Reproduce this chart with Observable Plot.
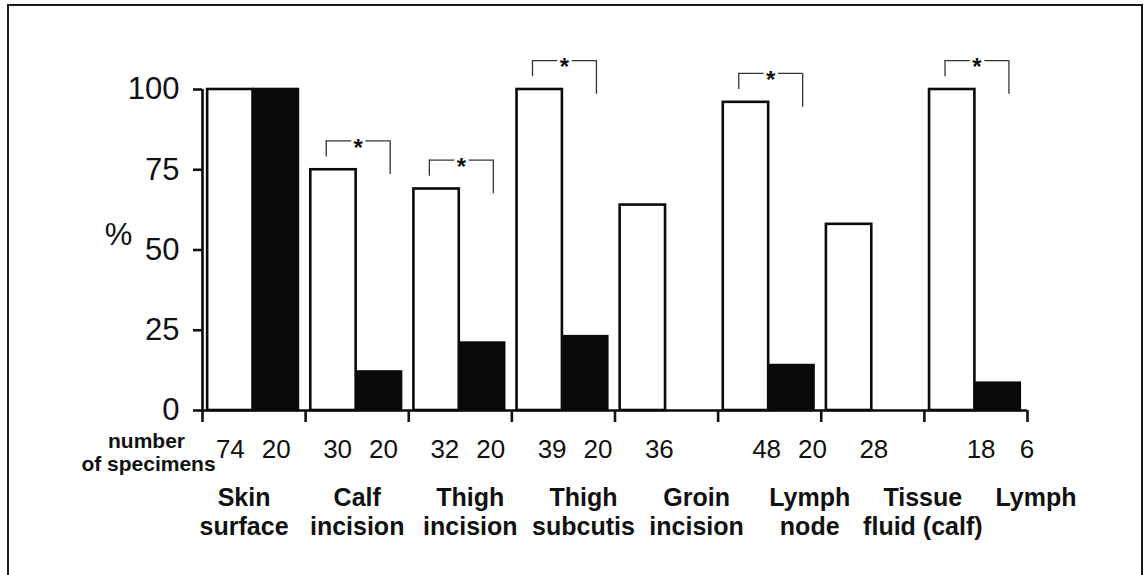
<!DOCTYPE html>
<html>
<head>
<meta charset="utf-8">
<script src="https://cdn.jsdelivr.net/npm/d3@7"></script>
<script src="https://cdn.jsdelivr.net/npm/@observablehq/plot@0.6"></script>
<style>
  html, body { margin: 0; padding: 0; background: #fff; }
  #wrap { position: relative; width: 1148px; height: 575px; overflow: hidden; background: #fff; }
  #frame { position: absolute; left: 7px; top: 4px; width: 1132px; height: 640px; border: 2px solid #1a1a1a; pointer-events: none; }
  #chart { position: absolute; left: 0; top: 0; }
</style>
</head>
<body>
<div id="wrap"><div id="chart"></div><div id="frame"></div></div>
<script>
// ---- data ----
const groups = ["Skin surface", "Calf incision", "Thigh incision", "Thigh subcutis", "Groin incision", "Lymph node", "Tissue fluid (calf)", "Lymph"];
const labelLine1 = ["Skin", "Calf", "Thigh", "Thigh", "Groin", "Lymph", "Tissue", "Lymph"];
const labelLine2 = ["surface", "incision", "incision", "subcutis", "incision", "node", "fluid (calf)", ""];
const whiteValues = [100, 75, 69, 100, 64, 96, 58, 100];
const blackValues = [100, 12, 21, 23, null, 14, null, 8.5];
const whiteN = [74, 30, 32, 39, 36, 48, 28, 18];
const blackN = [20, 20, 20, 20, null, 20, null, 6];
const significant = [false, true, true, true, false, true, false, true];
const yTicks = [0, 25, 50, 75, 100];

// ---- tables built from the arrays ----
const bars = [];
groups.forEach((g, i) => {
  bars.push({i, group: g, series: "white", value: whiteValues[i], n: whiteN[i]});
  if (blackValues[i] != null) bars.push({i, group: g, series: "black", value: blackValues[i], n: blackN[i]});
});
const labels = groups.map((g, i) => ({i, l1: labelLine1[i], l2: labelLine2[i]}));
const brackets = groups.map((g, i) => ({i, top: whiteValues[i] + 9})).filter(d => significant[d.i]);

// layout helpers (positions within a group, in group units)
const x1 = d => d.i + (d.series === "white" ? 0.05 : 0.50);
const x2 = d => d.i + (d.series === "white" ? 0.49 : 0.93);
const xc = d => (x1(d) + x2(d)) / 2;
const labelX = d => d.i + 0.5 + 0.097 * (d.i - 1);

const font = "'Liberation Sans', Arial, Helvetica, sans-serif";

const chart = Plot.plot({
  width: 1148,
  height: 575,
  marginLeft: 202,
  marginRight: 121,
  marginTop: 89,
  marginBottom: 165,
  style: {fontFamily: font, color: "#111", background: "transparent", overflow: "visible"},
  x: {domain: [0, groups.length], axis: null},
  y: {domain: [0, 100], axis: null},
  marks: [
    Plot.rectY(bars, {
      x1, x2, y1: 0, y2: "value",
      fill: d => d.series === "white" ? "white" : "#0a0a0a",
      stroke: "#0a0a0a", strokeWidth: 2.6
    }),
    Plot.ruleX([0], {y1: 0, y2: 100, stroke: "#0a0a0a", strokeWidth: 2.6}),
    Plot.ruleY([0], {x1: 0, x2: groups.length, stroke: "#0a0a0a", strokeWidth: 2.6}),
    Plot.axisY({ticks: yTicks, tickSize: 9, tickPadding: 14, fontSize: 31, label: null, strokeWidth: 2.6, tickFormat: d => String(d)}),
    Plot.axisX({ticks: d3.range(0, groups.length + 1), tickSize: 12, tickFormat: () => "", label: null, strokeWidth: 2.6}),
    Plot.text([50], {y: d => d, frameAnchor: "left", text: () => "%", textAnchor: "middle", dx: -84, dy: -15, fontSize: 31}),
    // significance brackets
    Plot.ruleY(brackets, {y: "top", x1: d => d.i + 0.2, x2: d => d.i + 0.82, stroke: "#333", strokeWidth: 1.3}),
    Plot.ruleX(brackets, {x: d => d.i + 0.2, y1: "top", y2: d => d.top - 5, stroke: "#333", strokeWidth: 1.3}),
    Plot.ruleX(brackets, {x: d => d.i + 0.82, y1: "top", y2: d => d.top - 10.5, stroke: "#333", strokeWidth: 1.3}),
    Plot.text(brackets, {x: d => d.i + 0.51, y: "top", text: () => "*", fontSize: 24, fontWeight: "bold", fill: "#111", stroke: "white", strokeWidth: 6, dy: 7}),
    // specimen counts
    Plot.text(bars, {x: d => xc(d) + 0.04 * d.i, text: d => String(d.n), frameAnchor: "bottom", dy: 47, fontSize: 26}),
    Plot.text(["number"], {frameAnchor: "bottom-left", text: d => d, textAnchor: "middle", dx: -56, dy: 37, fontSize: 21, fontWeight: "bold"}),
    Plot.text(["of specimens"], {frameAnchor: "bottom-left", text: d => d, textAnchor: "middle", dx: -54, dy: 60, fontSize: 21, fontWeight: "bold"}),
    // category labels
    Plot.text(labels, {x: labelX, text: "l1", frameAnchor: "bottom", dy: 95, fontSize: 25, fontWeight: "bold"}),
    Plot.text(labels, {x: labelX, text: "l2", frameAnchor: "bottom", dy: 124, fontSize: 25, fontWeight: "bold"})
  ]
});
document.getElementById("chart").appendChild(chart);
</script>
</body>
</html>
